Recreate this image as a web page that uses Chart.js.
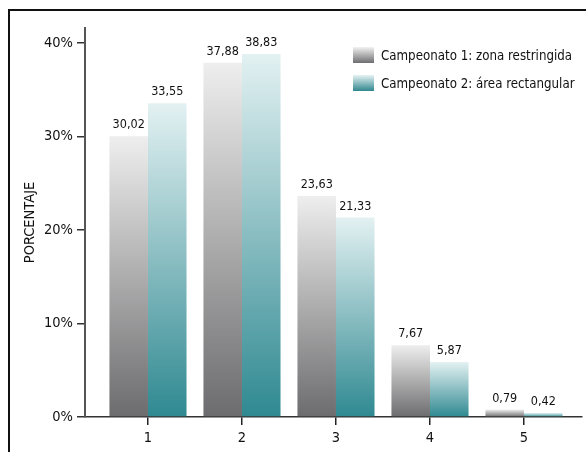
<!DOCTYPE html>
<html>
<head>
<meta charset="utf-8">
<script src="https://cdn.jsdelivr.net/npm/chart.js@4.4.1/dist/chart.umd.min.js"></script>
<style>
  body { margin: 0; background: #fff; }
  #wrap { position: relative; width: 586px; height: 452px; }
  #frame { position: absolute; left: 8px; top: 9px; right: -2px; bottom: -2px; border-left: 2px solid #111; border-top: 2px solid #111; }
  #legend { position: absolute; left: 353px; top: 41px; font-family: "DejaVu Sans Condensed", "Liberation Sans Narrow", Roboto, sans-serif; font-size: 13.2px; color: #111; white-space: nowrap; }
  .item { display: flex; align-items: center; height: 28px; }
  .sw { width: 21px; height: 16px; margin-right: 7px; }
  canvas { position: absolute; left: 0; top: 0; }
</style>
</head>
<body>
<div id="wrap">
  <div id="frame"></div>
  <canvas id="myChart" width="586" height="452"></canvas>
  <div id="legend">
    <div class="item"><div class="sw" style="background: linear-gradient(#f2f2f2, #6e6e70);"></div>Campeonato 1: zona restringida</div>
    <div class="item"><div class="sw" style="background: linear-gradient(#e6f2f3, #30878f);"></div>Campeonato 2: área rectangular</div>
  </div>
</div>
<script>
const categories = [1, 2, 3, 4, 5];
const zonaValues = [30.02, 37.88, 23.63, 7.67, 0.79];
const areaValues = [33.55, 38.83, 21.33, 5.87, 0.42];
const yTicks = [0, 10, 20, 30, 40];

const fontName = '"DejaVu Sans Condensed", "Liberation Sans Narrow", Roboto, sans-serif';

// per-bar vertical gradient, light at the top of each bar
function barGradient(top, bottom) {
  return function(context) {
    const chart = context.chart;
    const y = chart.scales.y;
    if (!y || !context.raw) return bottom;
    const yTop = y.getPixelForValue(context.raw.y);
    const yBot = y.getPixelForValue(0);
    if (!isFinite(yTop) || !isFinite(yBot) || yTop === yBot) return bottom;
    const g = chart.ctx.createLinearGradient(0, yTop, 0, yBot);
    g.addColorStop(0, top);
    g.addColorStop(1, bottom);
    return g;
  };
}

const valueLabels = {
  id: 'valueLabels',
  afterDatasetsDraw(chart) {
    const ctx = chart.ctx;
    ctx.save();
    ctx.font = '12.5px ' + fontName;
    ctx.fillStyle = '#111';
    ctx.textAlign = 'center';
    ctx.textBaseline = 'bottom';
    chart.data.datasets.forEach((ds, i) => {
      chart.getDatasetMeta(i).data.forEach((el, j) => {
        const v = ds.data[j].y;
        ctx.fillText(v.toFixed(2).replace('.', ','), el.x, el.y - 5);
      });
    });
    ctx.restore();
  }
};

new Chart("myChart", {
  type: "bar",
  data: {
    datasets: [{
      label: "Campeonato 1: zona restringida",
      data: categories.map((c, i) => ({x: c, y: zonaValues[i]})),
      backgroundColor: barGradient("#eeeeee", "#6c6c6e")
    }, {
      label: "Campeonato 2: área rectangular",
      data: categories.map((c, i) => ({x: c, y: areaValues[i]})),
      backgroundColor: barGradient("#e3f1f2", "#2f8991")
    }]
  },
  plugins: [valueLabels],
  options: {
    responsive: false,
    animation: false,
    layout: { padding: { left: 0, top: 28, right: 4, bottom: 0 } },
    datasets: { bar: { categoryPercentage: 0.82, barPercentage: 1 } },
    plugins: {
      legend: { display: false },
      tooltip: { enabled: false }
    },
    scales: {
      x: {
        type: "linear",
        offset: false,
        min: 0.33,
        max: 5.617,
        afterBuildTicks: s => { s.ticks = categories.map(v => ({value: v})); },
        afterFit: s => { s.height = 35; },
        grid: { offset: false, drawOnChartArea: false, tickLength: 8, color: "#222", lineWidth: 1.5 },
        border: { color: "#333", width: 1.5 },
        ticks: { color: "#111", font: { family: fontName, size: 14.5 }, padding: 5 }
      },
      y: {
        min: 0,
        max: 41.6,
        afterBuildTicks: s => { s.ticks = yTicks.map(v => ({value: v})); },
        afterFit: s => { s.width = 85; },
        grid: { drawOnChartArea: false, tickLength: 8, color: "#333", lineWidth: 1.5 },
        border: { color: "#555", width: 2 },
        ticks: { color: "#111", font: { family: fontName, size: 14.5 }, padding: 4, callback: v => v + "%" },
        title: { display: true, text: "PORCENTAJE", color: "#111", font: { family: fontName, size: 14.5 }, padding: { top: 22 } }
      }
    }
  }
});
</script>
</body>
</html>
